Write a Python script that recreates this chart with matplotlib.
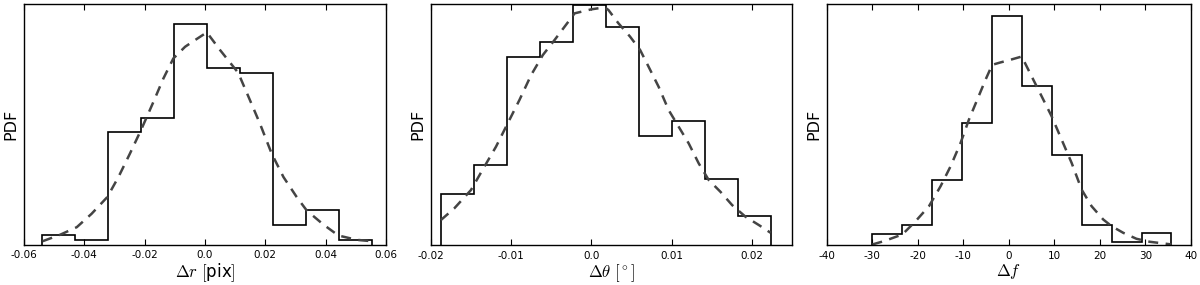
import matplotlib
matplotlib.use('Agg')
import matplotlib.pyplot as plt
import numpy as np

plt.rcParams['mathtext.fontset'] = 'cm'
plt.rcParams['axes.unicode_minus'] = False

# panel 1: delta r [pix]
r_edges = [-0.0539, -0.0430, -0.0321, -0.0212, -0.0103, 0.0006,
           0.0115, 0.0225, 0.0334, 0.0443, 0.0552]
r_hist = [28, 14, 337, 380, 659, 527, 514, 59, 103, 14]
r_curve_x = [-0.0538, -0.0481, -0.0425, -0.0376, -0.0324, -0.0287, -0.0249,
             -0.0210, -0.0171, -0.0138, -0.0105, -0.0066, -0.0033, 0.0006,
             0.0050, 0.0110, 0.0149, 0.0182, 0.0221, 0.0260, 0.0304, 0.0337,
             0.0392, 0.0442, 0.0503, 0.0552]
r_curve_y = [10, 29, 52, 92, 142, 202, 272, 347, 427, 497, 557, 592, 612, 635,
             582, 514, 432, 362, 272, 202, 142, 102, 60, 27, 14, 10]

# panel 2: delta theta [deg]
t_edges = [-0.01875, -0.01463, -0.01052, -0.00640, -0.00229, 0.00183,
           0.00594, 0.01006, 0.01418, 0.01830, 0.02242]
t_hist = [153, 240, 565, 610, 720, 653, 326, 371, 197, 87]
t_curve_x = [-0.01875, -0.01708, -0.0150, -0.01333, -0.01188, -0.01042,
             -0.00896, -0.0075, -0.00604, -0.00458, -0.00333, -0.00208,
             0.0, 0.00167, 0.00213, 0.00338, 0.00483, 0.00608, 0.00713,
             0.00838, 0.00963, 0.01088, 0.01213, 0.01338, 0.01463, 0.01608,
             0.01754, 0.01921, 0.02088, 0.02233]
t_curve_y = [75, 110, 165, 235, 295, 365, 435, 510, 570, 615, 655, 695, 707,
             713, 705, 665, 625, 585, 535, 475, 405, 355, 305, 245, 195, 160,
             120, 85, 60, 37]

# panel 3: delta f
f_edges = [-29.97, -23.40, -16.83, -10.25, -3.68, 2.89,
           9.46, 16.04, 22.61, 29.18, 35.75]
f_hist = [34, 60, 196, 368, 689, 479, 271, 60, 10, 35]
f_curve_x = [-29.97, -27.41, -23.39, -20.47, -17.54, -14.99, -12.79, -10.60,
             -8.77, -6.94, -5.12, -3.65, -1.90, 0.29, 2.85, 5.04, 7.24, 9.43,
             11.62, 13.82, 16.01, 18.20, 20.76, 22.59, 25.15, 28.07, 30.99,
             35.75]
f_curve_y = [2, 12, 32, 72, 117, 177, 237, 307, 377, 437, 497, 542, 549, 557,
             567, 507, 447, 387, 317, 247, 167, 117, 77, 57, 37, 19, 10, 2]

panels = [
    (r_edges, r_hist, r_curve_x, r_curve_y, (-0.06, 0.06), 720,
     [-0.06, -0.04, -0.02, 0.0, 0.02, 0.04, 0.06], r'$\Delta r\ [$pix$]$',
     [0.020, 0.142, 0.3017, 0.844]),
    (t_edges, t_hist, t_curve_x, t_curve_y, (-0.02, 0.025), 723,
     [-0.02, -0.01, 0.0, 0.01, 0.02], r'$\Delta\theta\ [^\circ]$',
     [0.359, 0.140, 0.301, 0.846]),
    (f_edges, f_hist, f_curve_x, f_curve_y, (-40, 40), 725,
     [-40, -30, -20, -10, 0, 10, 20, 30, 40], r'$\Delta f$',
     [0.689, 0.140, 0.3033, 0.846]),
]

fig = plt.figure(figsize=(12, 2.85), dpi=100)
for edges, hist, cx, cy, xlim, ytop, ticks, xlabel, pos in panels:
    ax = fig.add_axes(pos)
    ax.stairs(hist, edges, color='black', lw=1.2)
    ax.plot(cx, cy, ls='--', color='#444444', lw=1.8, dashes=(4, 3))
    ax.set_xlim(*xlim)
    ax.set_ylim(0, ytop)
    ax.set_xticks(ticks)
    if xlim[0] == -40:
        ax.set_xticklabels([str(t) for t in ticks])
    else:
        ax.set_xticklabels(['%g' % t if t != 0 else '0.0' for t in ticks])
    ax.set_yticks([])
    ax.tick_params(axis='x', direction='in', top=True, length=4, width=0.8,
                   labelsize=7.5, pad=4)
    ax.set_xlabel(xlabel, fontsize=12, labelpad=1)
    ax.set_ylabel('PDF', fontsize=11.5, labelpad=4)
    for s in ax.spines.values():
        s.set_linewidth(1.0)

plt.savefig('out.png', dpi=100)
plt.close(fig)
